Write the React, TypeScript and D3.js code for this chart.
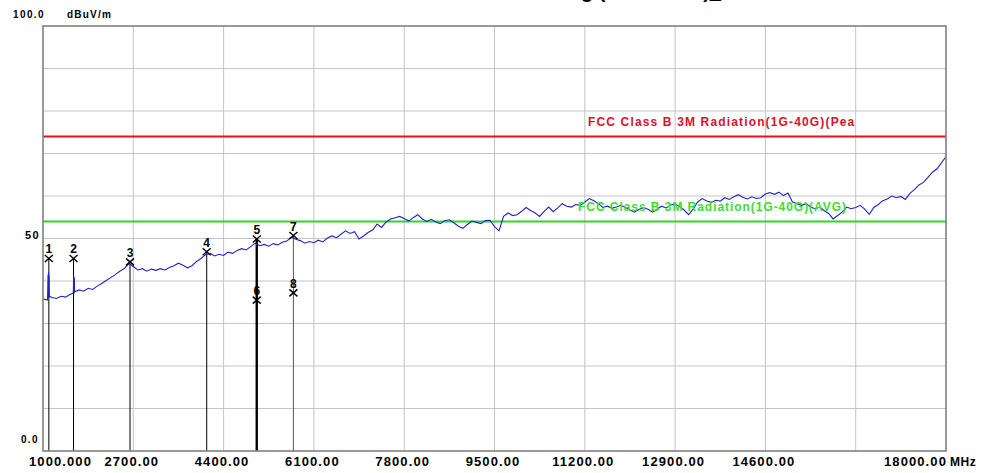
import React from "react";
import * as d3 from "d3";

// ---- data ----
const TRACE_START = 1000;
const TRACE_STEP = 85;
const traceValues = [
  35.8, 35.5, 36.1, 35.9, 36.4, 36.2, 36.8, 37.4, 37.9, 37.6,
  38.3, 38.0, 38.8, 39.4, 40.1, 40.8, 41.5, 42.3, 42.9, 44.1,
  43.4, 42.6, 42.9, 42.3, 42.8, 42.5, 42.9, 42.6, 43.2, 43.6,
  44.2, 43.7, 43.1, 43.6, 44.6, 45.3, 46.2, 46.5, 45.9, 46.3,
  46.0, 46.8, 46.5, 47.2, 47.6, 47.3, 48.1, 48.9, 48.3, 48.6,
  48.2, 48.8, 48.5, 49.1, 49.4, 50.3, 49.8, 49.5, 48.9, 49.3,
  49.0, 49.6, 49.2, 50.1, 50.6, 50.2, 51.0, 51.8, 51.2, 51.6,
  49.9, 50.6, 51.4, 52.0, 53.4, 52.6, 53.9, 54.6, 54.9, 55.2,
  54.7, 54.1, 54.9, 55.6, 54.6, 54.0, 54.5, 53.9, 53.5, 54.2,
  54.4, 53.7, 52.9, 52.4, 53.3, 54.1, 53.8, 53.5, 54.2, 54.3,
  52.8, 51.8, 55.2, 56.0, 55.4, 55.6, 56.4, 57.3, 56.6, 56.0,
  55.2, 56.4, 57.4, 56.3, 57.2, 58.2, 57.6, 57.4, 58.0, 57.8,
  58.6, 59.4, 58.9, 58.2, 57.3, 57.6, 57.1, 57.4, 57.8, 57.3,
  56.7, 56.2, 56.8, 57.3, 56.9, 56.2, 56.9, 57.6, 57.2, 57.9,
  58.1, 57.5, 56.7, 55.6, 56.9, 58.6, 59.4, 58.8, 58.5, 59.0,
  58.8, 59.6, 59.2, 59.8, 60.3, 59.7, 59.3, 59.8, 59.4, 59.6,
  60.5, 60.8, 60.4, 60.9, 60.1, 60.7, 58.6, 58.2, 57.8, 58.2,
  57.4, 57.0, 57.4, 56.6, 55.9, 54.6, 55.4, 56.2, 57.4, 57.0,
  57.3, 57.8, 56.9, 55.7, 57.3, 58.0, 58.9, 59.3, 60.0, 59.6,
  59.9, 59.2, 60.6, 61.5, 62.6, 63.2, 64.4, 65.6, 66.4, 67.8,
  69.3,
];
// narrow spikes near markers 1 and 2
const spikeFreqs = [1095, 1100, 1105, 1110, 1115, 1120, 1570, 1578, 1584, 1590, 1600];
const spikeValues = [41.5, 36.2, 42.0, 36.0, 41.2, 36.4, 37.2, 41.2, 37.4, 40.8, 37.5];

const markerIds = ["1", "2", "3", "4", "5", "6", "7", "8"];
const markerFreqs = [1110, 1575, 2638, 4082, 5024, 5024, 5714, 5714];
const markerValues = [45.3, 45.3, 44.5, 46.9, 49.9, 35.5, 50.7, 37.2];

const limitNames = ["FCC Class B 3M Radiation(1G-40G)(Pea", "FCC Class B 3M Radiation(1G-40G)(AVG)"];
const limitValues = [74, 54];
const limitColors = ["#e5121e", "#2fd52a"];
const limitTextColors = ["#d8122a", "#3ddc35"];

const xTickValues = [1000, 2700, 4400, 6100, 7800, 9500, 11200, 12900, 14600, 16300, 18000];
const xTickLabels = ["1000.000", "2700.00", "4400.00", "6100.00", "7800.00", "9500.00", "11200.00", "12900.00", "14600.00", "", "18000.00"];
const yGridValues = [0, 10, 20, 30, 40, 50, 60, 70, 80, 90, 100];
const yTickLabels = ["100.0", "50", "0.0"];

const W = 981;
const H = 473;
const FONT = "'Liberation Sans', Arial, sans-serif";

export default function App() {
  const x = d3.scaleLinear().domain([1000, 18000]).range([43, 946]);
  const y = d3.scaleLinear().domain([0, 100]).range([451, 26]);

  const pts: [number, number][] = traceValues.map((v, i) => [TRACE_START + TRACE_STEP * i, v]);
  spikeFreqs.forEach((f, i) => pts.push([f, spikeValues[i]]));
  pts.sort((a, b) => a[0] - b[0]);
  const line = d3.line<[number, number]>().x((d) => x(d[0])).y((d) => y(d[1]));

  const yLabelPos = (i: number) => {
    if (i === 0) return { x: 45, y: y(100) - 8.5 };
    if (i === 1) return { x: 40, y: y(50) + 0.5 };
    return { x: 39, y: y(0) - 8 };
  };

  return (
    <svg width={W} height={H} style={{ position: "absolute", left: 0, top: 0, background: "#fff" }} fontFamily={FONT}>
      <rect x={0} y={0} width={W} height={H} fill="#fff" />
      {/* title, cut off at the top edge as in the reference */}
      <text x={530} y={-2} textAnchor="middle" fontSize={20} fontWeight="bold" fill="#000">
        Radiated Emission Testing (Horizontal)_
      </text>
      {/* grid */}
      {xTickValues.slice(1, -1).map((v) => (
        <line key={"gx" + v} x1={x(v)} x2={x(v)} y1={y(100)} y2={y(0)} stroke="#c4c4c4" strokeWidth={1} />
      ))}
      {yGridValues.slice(1, -1).map((v) => (
        <line key={"gy" + v} x1={x(1000)} x2={x(18000)} y1={y(v)} y2={y(v)} stroke="#c4c4c4" strokeWidth={1} />
      ))}
      {/* limit lines */}
      {limitValues.map((v, i) => (
        <line key={"lim" + i} x1={x(1000)} x2={x(18000)} y1={y(v)} y2={y(v)} stroke={limitColors[i]} strokeWidth={2} />
      ))}
      {/* marker vertical lines */}
      {markerIds.map((id, i) =>
        i === 5 || i === 7 ? null : (
          <line
            key={"ml" + id}
            x1={x(markerFreqs[i])}
            x2={x(markerFreqs[i])}
            y1={y(markerValues[i])}
            y2={y(0)}
            stroke={i === 6 ? "#555" : "#000"}
            strokeWidth={i === 4 ? 2.4 : 1}
          />
        )
      )}
      {/* trace */}
      <path d={line(pts) || ""} fill="none" stroke="#2323c4" strokeWidth={1.1} />
      {/* limit labels */}
      <text x={588} y={126} fontSize={12} fontWeight="bold" fill={limitTextColors[0]} letterSpacing={1.15}>
        {limitNames[0]}
      </text>
      <text x={578} y={211} fontSize={12} fontWeight="bold" fill={limitTextColors[1]} letterSpacing={0.95}>
        {limitNames[1]}
      </text>
      {/* markers */}
      {markerIds.map((id, i) => {
        const cx = x(markerFreqs[i]);
        const cy = y(markerValues[i]);
        return (
          <g key={"mk" + id}>
            <line x1={cx - 4} x2={cx + 4} y1={cy - 3.5} y2={cy + 3.5} stroke="#000" strokeWidth={1.4} />
            <line x1={cx - 4} x2={cx + 4} y1={cy + 3.5} y2={cy - 3.5} stroke="#000" strokeWidth={1.4} />
            <text x={cx} y={cy - 5} textAnchor="middle" fontSize={12} fontWeight="bold" fill="#000">
              {id}
            </text>
          </g>
        );
      })}
      {/* frame */}
      <rect x={x(1000)} y={y(100)} width={x(18000) - x(1000)} height={y(0) - y(100)} fill="none" stroke="#808080" strokeWidth={1.6} />
      {/* y labels */}
      {yTickLabels.map((t, i) => {
        const p = yLabelPos(i);
        return (
          <text key={"yl" + i} x={p.x} y={p.y} textAnchor="end" fontSize={i === 1 ? 11 : 10} fontWeight="bold" fill="#000" letterSpacing={1.4}>
            {t}
          </text>
        );
      })}
      <text x={67} y={17.5} fontSize={10} fontWeight="bold" fill="#000" letterSpacing={1.2}>
        dBuV/m
      </text>
      {/* x labels */}
      {xTickLabels.map((t, i) => {
        if (!t) return null;
        const v = xTickValues[i];
        const first = i === 0;
        const last = i === xTickLabels.length - 1;
        return (
          <text
            key={"xl" + i}
            x={first ? x(v) - 14 : last ? x(v) + 1 : x(v) - 1.5}
            y={466}
            textAnchor={first ? "start" : last ? "end" : "middle"}
            fontSize={13}
            fontWeight="bold"
            fill="#000"
            letterSpacing={1.1}
          >
            {t}
          </text>
        );
      })}
      <text x={950} y={466} fontSize={12} fontWeight="bold" fill="#000" letterSpacing={0.5}>
        MHz
      </text>
    </svg>
  );
}
